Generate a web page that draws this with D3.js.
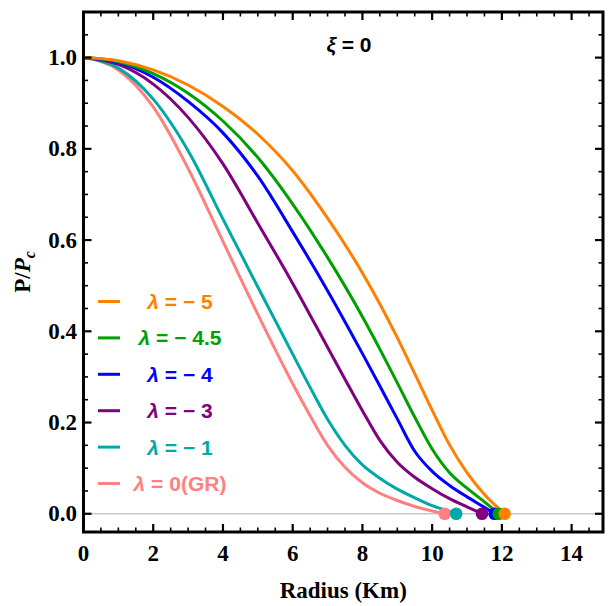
<!DOCTYPE html>
<html>
<head>
<meta charset="utf-8">
<script src="https://cdn.jsdelivr.net/npm/d3@7/dist/d3.min.js"></script>
<style>
  body { margin: 0; background: #fff; }
  svg { display: block; }
</style>
</head>
<body>
<svg id="chart" width="608" height="606"></svg>
<script>
// Normalised pressure profiles P/Pc against radius for several λ (ξ = 0)
const lambdaLabels = ["− 5", "− 4.5", "− 4", "− 3", "− 1", "0(GR)"];

const radiusL5   = [0, 1, 2, 3, 4, 5, 6, 7, 8, 8.5, 9, 9.5, 10, 10.5, 11, 11.5, 12.08];
const pressureL5 = [1, 0.993, 0.973, 0.94, 0.893, 0.832, 0.752, 0.648, 0.528, 0.46, 0.386, 0.307, 0.227, 0.151, 0.09, 0.042, 0];

const radiusL45   = [0, 1, 2, 3, 4, 5, 6, 7, 8, 8.5, 9, 9.5, 10, 10.5, 11, 11.5, 11.91];
const pressureL45 = [1, 0.991, 0.965, 0.922, 0.861, 0.781, 0.679, 0.562, 0.432, 0.361, 0.287, 0.212, 0.142, 0.09, 0.056, 0.026, 0];

const radiusL4   = [0, 1, 2, 3, 4, 5, 6, 7, 8, 8.5, 9, 9.5, 10, 10.5, 11, 11.5, 11.79];
const pressureL4 = [1, 0.989, 0.957, 0.904, 0.835, 0.74, 0.618, 0.489, 0.351, 0.28, 0.208, 0.137, 0.093, 0.062, 0.037, 0.014, 0];

const radiusL3   = [0, 1, 2, 3, 4, 5, 6, 7, 7.5, 8, 8.5, 9, 9.5, 10, 10.5, 11, 11.43];
const pressureL3 = [1, 0.985, 0.942, 0.869, 0.767, 0.637, 0.505, 0.365, 0.295, 0.226, 0.161, 0.113, 0.08, 0.055, 0.033, 0.015, 0];

const radiusL1   = [0, 1, 2, 3, 4, 5, 6, 6.5, 7, 7.5, 8, 8.5, 9, 9.5, 10, 10.5, 10.69];
const pressureL1 = [1, 0.977, 0.909, 0.796, 0.646, 0.497, 0.35, 0.277, 0.207, 0.15, 0.107, 0.078, 0.054, 0.035, 0.018, 0.005, 0];

const radiusGR   = [0, 1, 2, 3, 4, 5, 6, 6.5, 7, 7.5, 8, 8.5, 9, 9.5, 10, 10.36];
const pressureGR = [1, 0.973, 0.892, 0.757, 0.597, 0.437, 0.285, 0.215, 0.15, 0.102, 0.068, 0.045, 0.029, 0.016, 0.006, 0];

const xTickValues = [0, 2, 4, 6, 8, 10, 12, 14];
const yTickValues = [0, 0.2, 0.4, 0.6, 0.8, 1.0];

const seriesColors = ["#ff8000", "#00a000", "#0000ff", "#800080", "#00a8a8", "#ff8080"];

const series = [
  { label: lambdaLabels[0], r: radiusL5,  p: pressureL5,  color: seriesColors[0] },
  { label: lambdaLabels[1], r: radiusL45, p: pressureL45, color: seriesColors[1] },
  { label: lambdaLabels[2], r: radiusL4,  p: pressureL4,  color: seriesColors[2] },
  { label: lambdaLabels[3], r: radiusL3,  p: pressureL3,  color: seriesColors[3] },
  { label: lambdaLabels[4], r: radiusL1,  p: pressureL1,  color: seriesColors[4] },
  { label: lambdaLabels[5], r: radiusGR,  p: pressureGR,  color: seriesColors[5] }
];

const svg = d3.select("#chart");
const frameLeft = 83.5, frameRight = 603, frameTop = 12, frameBottom = 532;

const x = d3.scaleLinear().domain([0, 14.9]).range([frameLeft, frameRight]);
const y = d3.scaleLinear().domain([-0.04, 1.1]).range([frameBottom, frameTop]);

// reference line at P = 0
svg.append("line")
  .attr("x1", frameLeft).attr("x2", frameRight)
  .attr("y1", y(0)).attr("y2", y(0))
  .attr("stroke", "#c8c8c8").attr("stroke-width", 1.5);

svg.append("clipPath").attr("id", "plotclip")
  .append("rect").attr("x", frameLeft).attr("y", frameTop)
  .attr("width", frameRight - frameLeft).attr("height", frameBottom - frameTop);

const line = d3.line()
  .x(d => x(d[0])).y(d => y(d[1]))
  .curve(d3.curveMonotoneX);

const plot = svg.append("g").attr("clip-path", "url(#plotclip)");

// draw GR first so that the λ = −5 curve ends up on top
const drawOrder = series.slice().reverse();
drawOrder.forEach(s => {
  const pts = s.r.map((r, i) => [r, s.p[i]]);
  plot.append("path")
    .attr("d", line(pts))
    .attr("fill", "none")
    .attr("stroke", s.color)
    .attr("stroke-width", 3)
    .attr("stroke-linejoin", "round");
});
drawOrder.forEach(s => {
  const n = s.r.length - 1;
  plot.append("circle")
    .attr("cx", x(s.r[n])).attr("cy", y(s.p[n]))
    .attr("r", 6.3)
    .attr("fill", s.color);
});

// frame ticks (inward, on all four sides)
const tickG = svg.append("g").attr("stroke", "#000");
const xMinor = d3.range(0, 14.9, 0.5);
xMinor.forEach(v => {
  const major = xTickValues.includes(v);
  const len = major ? 8 : 4.5;
  const w = major ? 2.2 : 1.6;
  tickG.append("line").attr("x1", x(v)).attr("x2", x(v))
    .attr("y1", frameBottom).attr("y2", frameBottom - len).attr("stroke-width", w);
  tickG.append("line").attr("x1", x(v)).attr("x2", x(v))
    .attr("y1", frameTop).attr("y2", frameTop + len).attr("stroke-width", w);
});
const yMinor = d3.range(0, 1.1, 0.05).map(v => +v.toFixed(2));
yMinor.forEach(v => {
  const major = yTickValues.some(t => Math.abs(t - v) < 1e-6);
  const len = major ? 8 : 4.5;
  const w = major ? 2.2 : 1.6;
  tickG.append("line").attr("y1", y(v)).attr("y2", y(v))
    .attr("x1", frameLeft).attr("x2", frameLeft + len).attr("stroke-width", w);
  tickG.append("line").attr("y1", y(v)).attr("y2", y(v))
    .attr("x1", frameRight).attr("x2", frameRight - len).attr("stroke-width", w);
});

// frame
svg.append("rect")
  .attr("x", frameLeft).attr("y", frameTop)
  .attr("width", frameRight - frameLeft).attr("height", frameBottom - frameTop)
  .attr("fill", "none").attr("stroke", "#000").attr("stroke-width", 3);

// tick labels
const serif = "'Liberation Serif', 'Times New Roman', serif";
svg.append("g").selectAll("text").data(xTickValues).join("text")
  .attr("x", d => x(d)).attr("y", 561)
  .attr("text-anchor", "middle")
  .attr("font-family", serif).attr("font-weight", "bold").attr("font-size", 23)
  .text(d => d3.format("d")(d));

svg.append("g").selectAll("text").data(yTickValues).join("text")
  .attr("x", 77).attr("y", d => y(d) + 7.5)
  .attr("text-anchor", "end")
  .attr("font-family", serif).attr("font-weight", "bold").attr("font-size", 23)
  .text(d => d3.format(".1f")(d));

// axis titles
svg.append("text")
  .attr("x", (frameLeft + frameRight) / 2).attr("y", 598)
  .attr("text-anchor", "middle")
  .attr("font-family", serif).attr("font-weight", "bold").attr("font-size", 23)
  .text("Radius (Km)");

const yTitle = svg.append("text")
  .attr("transform", `translate(30,${(frameTop + frameBottom) / 2}) rotate(-90)`)
  .attr("text-anchor", "middle")
  .attr("font-family", serif).attr("font-weight", "bold").attr("font-size", 23);
yTitle.append("tspan").text("P/");
yTitle.append("tspan").attr("font-style", "italic").text("P");
yTitle.append("tspan").attr("font-style", "italic").attr("font-size", 16)
  .attr("dy", 5).text("c");

// panel title
const sans = "'Liberation Sans', Arial, sans-serif";
const title = svg.append("text")
  .attr("x", 349).attr("y", 52)
  .attr("text-anchor", "middle")
  .attr("font-family", sans).attr("font-weight", "bold").attr("font-size", 21);
title.append("tspan").attr("font-style", "italic").text("ξ");
title.append("tspan").text(" = 0");

// legend
const legend = svg.append("g");
series.forEach((s, i) => {
  const ly = 301.5 + i * 36.4;
  legend.append("line")
    .attr("x1", 98).attr("x2", 120)
    .attr("y1", ly).attr("y2", ly)
    .attr("stroke", s.color).attr("stroke-width", 3);
  const t = legend.append("text")
    .attr("x", 180).attr("y", ly + 7.5)
    .attr("text-anchor", "middle")
    .attr("fill", s.color)
    .attr("font-family", sans).attr("font-weight", "bold").attr("font-size", 21)
    .attr("xml:space", "preserve");
  t.append("tspan").attr("font-style", "italic").text("λ");
  t.append("tspan").text(" = " + s.label);
});
</script>
</body>
</html>
